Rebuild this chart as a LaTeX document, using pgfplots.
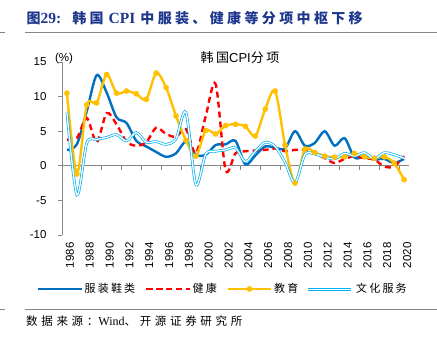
\documentclass[border=0pt]{standalone}
\usepackage{pgfplots}
\pgfplotsset{compat=1.18}
\usepackage{fontspec}
\setmainfont{Liberation Sans}
\newfontfamily\tnr{Liberation Serif}
\newfontfamily\cjk{Noto Sans CJK SC}
\newfontfamily\cjkT[LetterSpace=24]{Noto Sans CJK SC}
\newfontfamily\cjkL[LetterSpace=20]{Noto Sans CJK SC}
\newfontfamily\cjkS[LetterSpace=32]{Noto Sans CJK SC}
\definecolor{cloth}{HTML}{0070C0}
\definecolor{health}{HTML}{FF0000}
\definecolor{edu}{HTML}{FFC000}
\definecolor{cult}{HTML}{00B0F0}
\definecolor{titleblue}{RGB}{30,55,140}
\definecolor{axgray}{HTML}{868686}

\pgfplotstableread{
year cloth health edu cult
1986 2.3 3.8 10.5 7.7
1987 3.1 4.0 -1.2 -4.2
1988 7.9 6.9 8.8 3.3
1989 13.1 3.4 9.1 3.8
1990 10.6 7.6 13.2 4.1
1991 7.0 6.0 10.5 4.5
1992 6.2 3.5 10.8 3.6
1993 3.6 2.9 10.4 4.8
1994 2.8 3.4 9.6 3.4
1995 2.0 5.5 13.4 3.5
1996 1.3 4.6 11.3 3.1
1997 1.8 4.2 7.2 3.9
1998 3.5 5.3 3.7 7.7
1999 1.6 1.8 1.4 -2.7
2000 1.6 7.2 5.1 1.7
2001 3.0 11.8 4.6 2.1
2002 3.1 -0.6 5.8 2.3
2003 3.6 1.8 6.0 2.6
2004 0.2 2.1 5.7 0.6
2005 1.5 2.2 4.3 2.1
2006 2.8 2.3 8.2 3.4
2007 2.6 2.5 10.8 2.8
2008 2.5 2.1 3.0 0.5
2009 5.0 2.3 -2.5 -2.5
2010 2.9 2.3 2.4 1.6
2011 3.3 1.9 1.9 1.7
2012 5.0 1.1 1.4 1.25
2013 2.9 0.4 1.25 1.0
2014 4.0 1.0 1.3 1.8
2015 1.2 1.4 1.8 1.4
2016 1.3 1.1 1.3 1.9
2017 0.9 0.9 1.1 1.0
2018 1.0 -0.1 1.3 1.9
2019 0.4 -0.1 0.4 1.6
2020 1.0 1.4 -2.0 1.1
}\datatable

\begin{document}
\begin{tikzpicture}
\path[use as bounding box] (0pt,0pt) rectangle (437pt,-347pt);
% title
\node[anchor=west, text=titleblue, inner sep=0] at (26.5pt,-18pt) {\fontsize{14}{16}\selectfont\bfseries\cjkT 图{\tnr\fontsize{15.5}{16}\selectfont 29:}\hspace{11pt}韩国\hspace{5pt}{\tnr\fontsize{15.5}{16}\selectfont CPI}\hspace{5pt}中服装、健康等分项中枢下移};
\draw[axgray, line width=1.2pt] (0pt,-32.3pt) -- (5pt,-32.3pt);
\draw[axgray, line width=1.2pt] (25pt,-32.3pt) -- (437pt,-32.3pt);
\draw[axgray, line width=1.2pt] (0pt,-309.3pt) -- (5pt,-309.3pt);
\draw[axgray, line width=1.2pt] (25pt,-309.3pt) -- (437pt,-309.3pt);
\node[anchor=west, inner sep=0] at (26pt,-321.5pt) {\fontsize{11.5}{13}\selectfont\cjkS 数据来源：{\tnr\fontsize{12}{13}\selectfont Wind}、开源证券研究所};

\begin{axis}[
 at={(62pt,-235pt)}, anchor=south west,
 scale only axis, width=347pt, height=173pt,
 xmin=1985.5, xmax=2020.5, ymin=-10, ymax=15,
 axis y line*=left, axis x line*=bottom,
 x axis line style={draw=none},
 y axis line style={axgray, line width=0.8pt},
 xtick={1986,1988,...,2020},
 xticklabels={1986,1988,1990,1992,1994,1996,1998,2000,2002,2004,2006,2008,2010,2012,2014,2016,2018,2020},
 xtick style={draw=none},
 ytick={-10,-5,0,5,10,15},
 yticklabels={-10,-5,0,5,10,15},
 ytick style={axgray, line width=0.8pt},
 tick align=outside, major tick length=4pt,
 x tick label style={rotate=90, anchor=east, font=\fontsize{11.5}{12}\selectfont, yshift=-3pt},
 y tick label style={font=\fontsize{11.5}{12}\selectfont, xshift=-8pt},
 clip=false,
 legend style={at={(-0.072,-0.312)}, anchor=west, draw=none, fill=none, inner sep=0pt,
   font=\fontsize{11}{13}\selectfont\cjkL, legend columns=4,
   /tikz/every even column/.append style={column sep=8pt}},
 legend cell align=left,
 legend image code/.code={\draw[mark repeat=2,mark phase=2,#1] plot coordinates {(0pt,0pt) (21.5pt,0pt) (43pt,0pt)};},
]
\draw[axgray, line width=0.8pt] (axis cs:1985.5,0) -- (axis cs:2020.5,0);
\draw[axgray, line width=0.8pt] (axis cs:1987.5,0) -- ++(0pt,-4pt) (axis cs:1989.5,0) -- ++(0pt,-4pt) (axis cs:1991.5,0) -- ++(0pt,-4pt) (axis cs:1993.5,0) -- ++(0pt,-4pt) (axis cs:1995.5,0) -- ++(0pt,-4pt) (axis cs:1997.5,0) -- ++(0pt,-4pt) (axis cs:1999.5,0) -- ++(0pt,-4pt) (axis cs:2001.5,0) -- ++(0pt,-4pt) (axis cs:2003.5,0) -- ++(0pt,-4pt) (axis cs:2005.5,0) -- ++(0pt,-4pt) (axis cs:2007.5,0) -- ++(0pt,-4pt) (axis cs:2009.5,0) -- ++(0pt,-4pt) (axis cs:2011.5,0) -- ++(0pt,-4pt) (axis cs:2013.5,0) -- ++(0pt,-4pt) (axis cs:2015.5,0) -- ++(0pt,-4pt) (axis cs:2017.5,0) -- ++(0pt,-4pt) (axis cs:2019.5,0) -- ++(0pt,-4pt);
\addplot[cloth, line width=2.4pt, smooth, tension=0.5] table[x=year,y=cloth] {\datatable};
\addlegendentry{服装鞋类}
\addplot[health, line width=2.4pt, dash pattern=on 6pt off 4pt, smooth, tension=0.5] table[x=year,y=health] {\datatable};
\addlegendentry{健康}
\addplot[edu, line width=2.4pt, smooth, tension=0.5, mark=*, mark size=2.6pt, mark options={solid, fill=edu, draw=edu, line width=0.4pt}] table[x=year,y=edu] {\datatable};
\addlegendentry{教育}
\addplot[cult, line width=2.7pt, smooth, tension=0.5, forget plot] table[x=year,y=cult] {\datatable};
\addplot[white, line width=1.3pt, smooth, tension=0.5, forget plot] table[x=year,y=cult] {\datatable};
\addlegendimage{legend image code/.code={\draw[cult, line width=2.7pt] (0pt,0pt) -- (43pt,0pt); \draw[white, line width=1.3pt] (0pt,0pt) -- (43pt,0pt);}}
\addlegendentry{文化服务}
\end{axis}
% legend sample for the double-line series
\draw[cult, line width=2.7pt] (308pt,-289.5pt) -- (351pt,-289.5pt);
\draw[white, line width=1.3pt] (308pt,-289.5pt) -- (351pt,-289.5pt);
\node at (240pt,-58pt) {\fontsize{13}{15}\selectfont\cjkL 韩国\rmfamily CPI\cjkL 分项};
\node at (64pt,-58.5pt) {\fontsize{11.5}{13}\selectfont (\%)};
\end{tikzpicture}
\end{document}
